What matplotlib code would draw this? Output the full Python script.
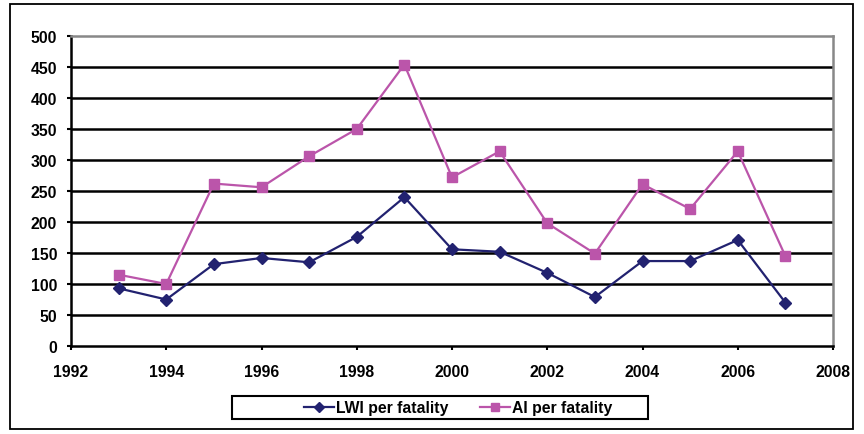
import matplotlib
matplotlib.use("Agg")
import matplotlib.pyplot as plt
from matplotlib.patches import Rectangle

years = [1993, 1994, 1995, 1996, 1997, 1998, 1999, 2000, 2001, 2002, 2003, 2004, 2005, 2006, 2007]
lwi = [93, 75, 132, 142, 135, 176, 240, 156, 152, 118, 79, 137, 137, 171, 70]
ai = [115, 100, 262, 256, 306, 350, 454, 272, 314, 198, 149, 261, 221, 314, 145]
x_ticks = list(range(1992, 2009, 2))
y_ticks = list(range(0, 501, 50))

plt.rcParams['font.family'] = ['Liberation Sans', 'DejaVu Sans']

fig = plt.figure(figsize=(8.64, 4.35), dpi=100)
fig.patches.append(Rectangle((10/864, 1-430/435), 843/864, 425/435, transform=fig.transFigure,
                             fill=False, edgecolor='black', linewidth=1.3))
# legend frame
fig.patches.append(Rectangle((232/864, 1-420/435), 416/864, 23/435, transform=fig.transFigure,
                             fill=False, edgecolor='black', linewidth=1.5))
ax = fig.add_axes([71/864, 1-347/435, (833-71)/864, 310/435])

navy = '#222270'
mag = '#BB55AA'
ax.plot(years, lwi, color=navy, marker='D', markersize=6, linewidth=1.6, label='LWI per fatality', zorder=3)
ax.plot(years, ai, color=mag, marker='s', markersize=7.5, linewidth=1.6, label='AI per fatality', zorder=3)

ax.set_xlim(1992, 2008)
ax.set_ylim(0, 500)
ax.set_xticks(x_ticks)
ax.set_yticks(y_ticks)
for y in y_ticks[1:-1]:
    ax.axhline(y, color='black', linewidth=1.8, zorder=1)

for s in ['left', 'bottom']:
    ax.spines[s].set_color('black')
    ax.spines[s].set_linewidth(1.8)
for s in ['top', 'right']:
    ax.spines[s].set_color('#888888')
    ax.spines[s].set_linewidth(1.8)

ax.tick_params(axis='both', direction='out', length=3, width=1.5, colors='black', labelsize=11.3)
for lab in ax.get_xticklabels() + ax.get_yticklabels():
    lab.set_fontweight('bold')
ax.tick_params(axis='y', pad=7)
ax.tick_params(axis='x', pad=10)

leg = fig.legend(loc='center', bbox_to_anchor=(458/864, 1-408.5/435), ncol=2,
                 prop={'weight': 'bold', 'size': 11.3}, frameon=False,
                 handlelength=1.9, columnspacing=2.0, borderpad=0.0,
                 handletextpad=0.15, markerscale=0.8)

fig.savefig('out.png', dpi=100)
